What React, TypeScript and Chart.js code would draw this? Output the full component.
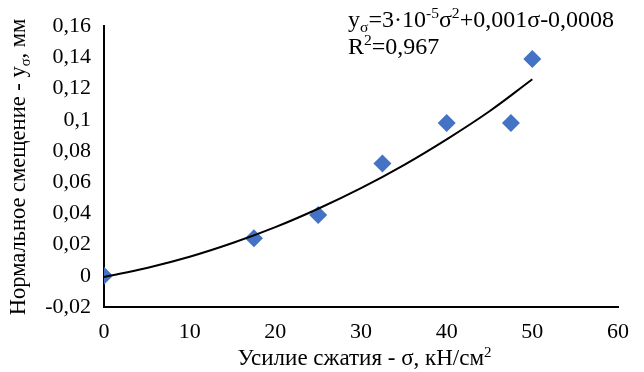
import React, { useEffect, useRef } from "react";
import { Chart, registerables } from "chart.js";

Chart.register(...registerables);

// Measured points: compressive force σ (kN/cm²) vs normal displacement yσ (mm)
const sigmaValues = [0, 17.5, 25, 32.5, 40, 47.5, 50];
const displacementValues = [0, 0.024, 0.039, 0.072, 0.098, 0.098, 0.139];

// Polynomial trendline
const trendSigma = [0, 5, 10, 15, 20, 25, 30, 35, 40, 45, 50];
const trendDisplacement = [-0.0008, 0.005, 0.0122, 0.021, 0.0312, 0.043, 0.0562, 0.071, 0.0875, 0.1055, 0.126];

const xTicksRange = { min: 0, max: 60, step: 10 };
const yTicksRange = { min: -0.02, max: 0.16, step: 0.02 };

type Seg = { t: string; m?: "sub" | "sup" };
const yTitle: Seg[] = [
  { t: "Нормальное смещение - y" },
  { t: "σ", m: "sub" },
  { t: ", мм" },
];
const xTitle: Seg[] = [{ t: "Усилие сжатия - σ, кН/см" }, { t: "2", m: "sup" }];
const eqLine1: Seg[] = [
  { t: "y" },
  { t: "σ", m: "sub" },
  { t: "=3·10" },
  { t: "-5", m: "sup" },
  { t: "σ" },
  { t: "2", m: "sup" },
  { t: "+0,001σ-0,0008" },
];
const eqLine2: Seg[] = [{ t: "R" }, { t: "2", m: "sup" }, { t: "=0,967" }];

const FONT = '"Liberation Serif", "Times New Roman", serif';

function segWidth(ctx: CanvasRenderingContext2D, segs: Seg[], size: number) {
  let w = 0;
  for (const s of segs) {
    const fs = s.m ? size * 0.65 : size;
    ctx.font = `${fs}px ${FONT}`;
    w += ctx.measureText(s.t).width;
  }
  return w;
}

function drawSegs(ctx: CanvasRenderingContext2D, segs: Seg[], x: number, y: number, size: number) {
  let cx = x;
  ctx.textBaseline = "alphabetic";
  ctx.textAlign = "left";
  for (const s of segs) {
    const fs = s.m ? size * 0.65 : size;
    ctx.font = `${fs}px ${FONT}`;
    let dy = 0;
    if (s.m === "sub") dy = size * 0.2;
    if (s.m === "sup") dy = -size * 0.36;
    ctx.fillText(s.t, cx, y + dy);
    cx += ctx.measureText(s.t).width;
  }
}

const textPlugin = {
  id: "richText",
  afterDraw(chart: any) {
    const ctx: CanvasRenderingContext2D = chart.ctx;
    ctx.save();
    ctx.fillStyle = "#000";
    // x title
    const xSize = 23;
    const xw = segWidth(ctx, xTitle, xSize);
    drawSegs(ctx, xTitle, 364.5 - xw / 2, 365, xSize);
    // y title
    ctx.save();
    ctx.translate(25, 167);
    ctx.rotate(-Math.PI / 2);
    const ySize = 22.5;
    const yw = segWidth(ctx, yTitle, ySize);
    drawSegs(ctx, yTitle, -yw / 2, 0, ySize);
    ctx.restore();
    // equation
    drawSegs(ctx, eqLine1, 348, 27, 24);
    drawSegs(ctx, eqLine2, 348, 54, 24);
    ctx.restore();
  },
};

function fmt(v: number) {
  const r = Math.round(v * 100) / 100;
  return String(r).replace(".", ",");
}

export default function App() {
  const ref = useRef<HTMLCanvasElement>(null);
  useEffect(() => {
    if (!ref.current) return;
    const chart = new Chart(ref.current, {
      type: "scatter",
      data: {
        datasets: [
          {
            type: "line",
            data: trendSigma.map((x, i) => ({ x, y: trendDisplacement[i] })),
            borderColor: "#000",
            borderWidth: 2,
            pointRadius: 0,
            tension: 0.4,
            fill: false,
          } as any,
          {
            type: "scatter",
            data: sigmaValues.map((x, i) => ({ x, y: displacementValues[i] })),
            backgroundColor: "#4472C4",
            borderColor: "#4472C4",
            pointStyle: "rectRot",
            pointRadius: 9,
            pointBorderWidth: 0,
          } as any,
        ],
      },
      options: {
        animation: false,
        responsive: false,
        devicePixelRatio: 1,
        layout: { padding: { left: 0, top: 17, right: 26, bottom: 0 } },
        plugins: { legend: { display: false }, tooltip: { enabled: false } },
        scales: {
          x: {
            type: "linear",
            min: xTicksRange.min,
            max: xTicksRange.max,
            afterFit: (s: any) => {
              s.height = 65;
            },
            ticks: {
              stepSize: xTicksRange.step,
              padding: 12,
              color: "#000",
              font: { family: FONT, size: 22 },
            },
            grid: { display: false, drawTicks: false },
            border: { display: true, color: "#000", width: 2 },
          },
          y: {
            type: "linear",
            min: yTicksRange.min,
            max: yTicksRange.max,
            afterFit: (s: any) => {
              s.width = 104;
            },
            ticks: {
              stepSize: yTicksRange.step,
              padding: 13,
              color: "#000",
              font: { family: FONT, size: 22 },
              callback: (v: any) => fmt(Number(v)),
            },
            grid: { display: false, drawTicks: false },
            border: { display: true, color: "#000", width: 2 },
          },
        },
      },
      plugins: [textPlugin],
    });
    return () => chart.destroy();
  }, []);
  return (
    <div style={{ position: "absolute", left: 0, top: 0, width: 644, height: 372, background: "#fff" }}>
      <canvas ref={ref} width={644} height={372} />
    </div>
  );
}
